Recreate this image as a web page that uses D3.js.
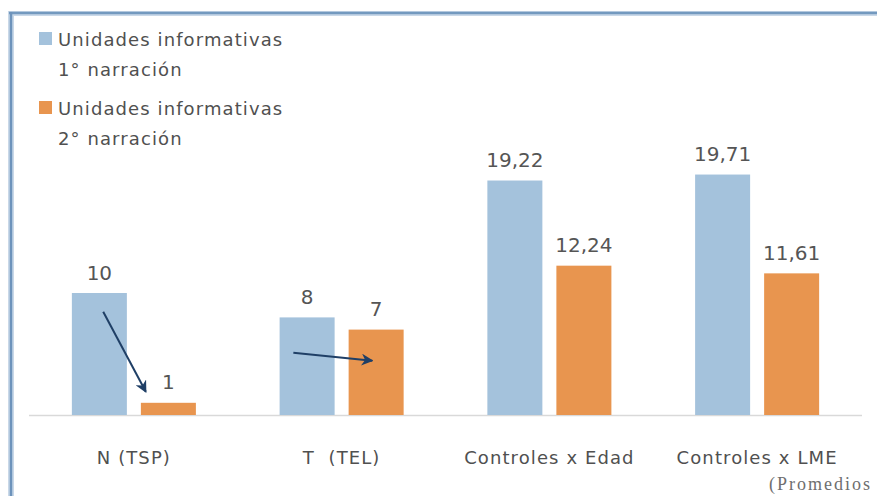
<!DOCTYPE html>
<html>
<head>
<meta charset="utf-8">
<script src="https://cdn.jsdelivr.net/npm/d3@7"></script>
<style>
  html, body { margin: 0; padding: 0; background: #ffffff; }
  svg { display: block; }
</style>
</head>
<body>
<svg id="chart" width="877" height="496"></svg>
<script>
// ---- data ----
const categories = ["N (TSP)", "T  (TEL)", "Controles x Edad", "Controles x LME"];
const seriesNames = ["Unidades informativas 1° narración", "Unidades informativas 2° narración"];
const legendLines = [["Unidades informativas", "1° narración"], ["Unidades informativas", "2° narración"]];
const values1 = [10, 8, 19.22, 19.71];
const values2 = [1, 7, 12.24, 11.61];
const valueLabels1 = ["10", "8", "19,22", "19,71"];
const valueLabels2 = ["1", "7", "12,24", "11,61"];
const colors = ["#a4c2dc", "#e8954f"];
const footnote = "(Promedios";
// arrows: [category, from series, from offset (bar widths), from value, to series, to offset, to value]
const arrows = [
  ["N (TSP)", 0, 0.57, 8.47, 1, 0.09, 1.9],
  ["T  (TEL)", 0, 0.25, 5.1, 1, 0.43, 4.45]
];

const svg = d3.select("#chart");
const W = 877, H = 496;

// frame
svg.append("line").attr("x1", 8).attr("x2", W).attr("y1", 13.5).attr("y2", 13.5)
  .attr("stroke", "#c9d8e8").attr("stroke-width", 5);
svg.append("line").attr("x1", 11).attr("x2", 11).attr("y1", 11).attr("y2", H)
  .attr("stroke", "#c9d8e8").attr("stroke-width", 6);
svg.append("line").attr("x1", 9).attr("x2", W).attr("y1", 13).attr("y2", 13)
  .attr("stroke", "#7399bf").attr("stroke-width", 2.5);
svg.append("line").attr("x1", 11).attr("x2", 11).attr("y1", 12).attr("y2", H)
  .attr("stroke", "#6d93bb").attr("stroke-width", 2.5);

// scales
const x0 = d3.scaleBand().domain(categories).range([30, 861]).paddingInner(0.403).paddingOuter(0.2015);
const x1 = d3.scaleBand().domain([0, 1]).range([0, x0.bandwidth()]).paddingInner(0.203);
const y = d3.scaleLinear().domain([0, 20]).range([415, 171]);

const data = categories.map((c, i) => ({ cat: c, vals: [values1[i], values2[i]], labels: [valueLabels1[i], valueLabels2[i]] }));

// baseline
svg.append("line").attr("x1", 29).attr("x2", 862).attr("y1", y(0) + 0.5).attr("y2", y(0) + 0.5)
  .attr("stroke", "#d9d9d9").attr("stroke-width", 1.5);

const groups = svg.selectAll("g.grp").data(data).join("g")
  .attr("class", "grp").attr("transform", d => `translate(${x0(d.cat)},0)`);

groups.selectAll("rect").data(d => d.vals.map((v, s) => ({ v, s }))).join("rect")
  .attr("x", d => x1(d.s)).attr("width", x1.bandwidth())
  .attr("y", d => y(d.v)).attr("height", d => y(0) - y(d.v))
  .attr("fill", d => colors[d.s]);

groups.selectAll("text.val").data(d => d.vals.map((v, s) => ({ v, s, l: d.labels[s] }))).join("text")
  .attr("class", "val")
  .attr("x", d => x1(d.s) + x1.bandwidth() / 2)
  .attr("y", d => y(d.v) - 13.5)
  .attr("text-anchor", "middle")
  .attr("font-family", "DejaVu Sans")
  .attr("font-size", 20)
  .attr("fill", "#555555")
  .text(d => d.l);

// category labels
svg.selectAll("text.cat").data(categories).join("text")
  .attr("class", "cat")
  .attr("x", d => x0(d) + x0.bandwidth() / 2)
  .attr("y", 464)
  .attr("text-anchor", "middle")
  .attr("font-family", "DejaVu Sans")
  .attr("font-size", 18)
  .attr("letter-spacing", 1.1)
  .attr("fill", "#505050")
  .style("white-space", "pre")
  .text(d => d);

// legend
const legendY = [32, 101];
legendLines.forEach((lines, i) => {
  svg.append("rect").attr("x", 39).attr("y", legendY[i]).attr("width", 13).attr("height", 13)
    .attr("fill", colors[i]);
  lines.forEach((t, j) => {
    svg.append("text").attr("x", 58).attr("y", legendY[i] + 13.5 + j * 30)
      .attr("font-family", "DejaVu Sans").attr("font-size", 18)
      .attr("letter-spacing", 1.1)
      .attr("fill", "#505050").text(t);
  });
});

// arrows
const defs = svg.append("defs");
defs.append("marker").attr("id", "ah").attr("viewBox", "0 0 10 10")
  .attr("refX", 9).attr("refY", 5).attr("markerWidth", 12).attr("markerHeight", 12)
  .attr("markerUnits", "userSpaceOnUse").attr("orient", "auto")
  .append("path").attr("d", "M0,0 L10,5 L0,10 L3,5 Z").attr("fill", "#1f3f66");

arrows.forEach(a => {
  const [cat, s0, o0, v0, s1, o1, v1] = a;
  const xa = x0(cat) + x1(s0) + o0 * x1.bandwidth();
  const xb = x0(cat) + x1(s1) + o1 * x1.bandwidth();
  svg.append("line").attr("x1", xa).attr("y1", y(v0)).attr("x2", xb).attr("y2", y(v1))
    .attr("stroke", "#1f3f66").attr("stroke-width", 2)
    .attr("marker-end", "url(#ah)");
});

// footnote
svg.append("text").attr("x", 769).attr("y", 490)
  .attr("font-family", "Liberation Serif").attr("font-size", 18)
  .attr("letter-spacing", 2)
  .attr("fill", "#6e6e6e").text(footnote);
</script>
</body>
</html>
